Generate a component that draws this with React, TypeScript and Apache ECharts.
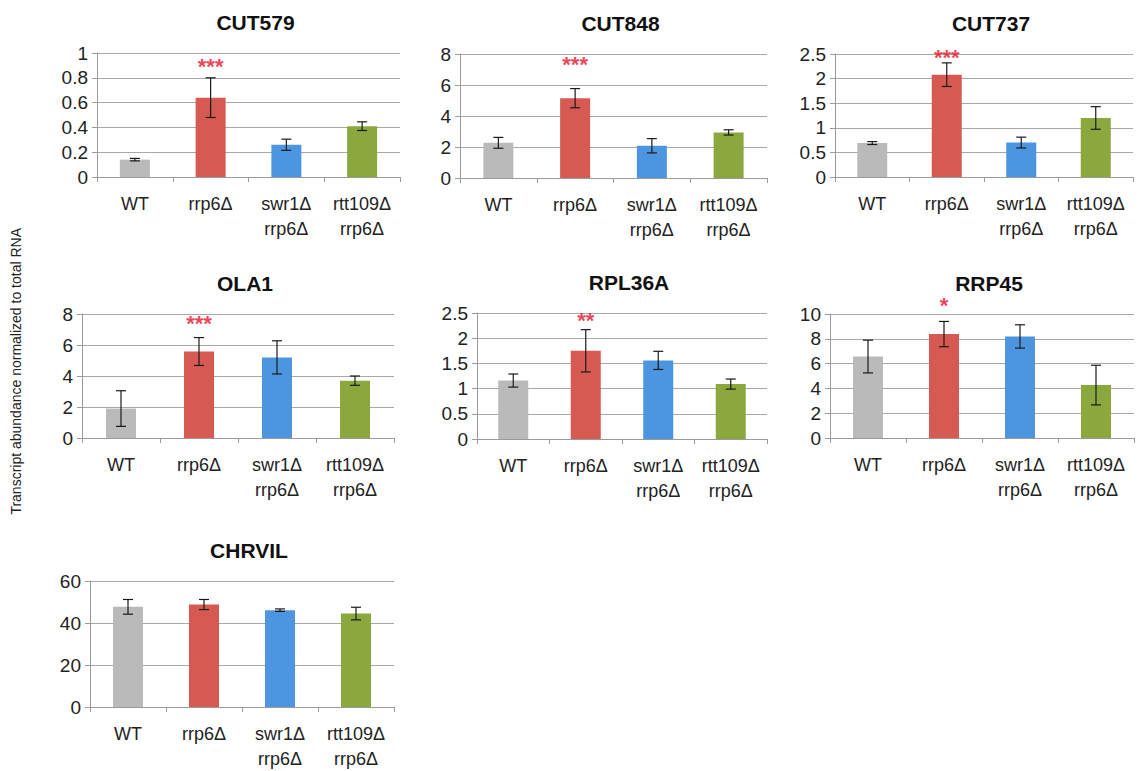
import React, { useEffect, useRef } from "react";
import * as echarts from "echarts";

const categories = ["WT", "rrp6Δ", "swr1Δ\nrrp6Δ", "rtt109Δ\nrrp6Δ"];
const barColors = ["#bababa", "#d65a52", "#4e95df", "#8aa83e"];

const titles = ["CUT579", "CUT848", "CUT737", "OLA1", "RPL36A", "RRP45", "CHRVIL"];
const yMax = [1, 8, 2.5, 8, 2.5, 10, 60];
const yInterval = [0.2, 2, 0.5, 2, 0.5, 2, 20];

const cut579 = [0.14, 0.64, 0.26, 0.41];
const cut579Err = [0.01, 0.16, 0.045, 0.035];
const cut848 = [2.27, 5.15, 2.08, 2.94];
const cut848Err = [0.35, 0.62, 0.46, 0.17];
const cut737 = [0.69, 2.08, 0.7, 1.2];
const cut737Err = [0.03, 0.24, 0.11, 0.23];
const ola1 = [1.9, 5.58, 5.2, 3.7];
const ola1Err = [1.15, 0.9, 1.07, 0.3];
const rpl36a = [1.16, 1.75, 1.56, 1.09];
const rpl36aErr = [0.13, 0.42, 0.18, 0.1];
const rrp45 = [6.57, 8.38, 8.19, 4.27];
const rrp45Err = [1.32, 1.02, 0.94, 1.6];
const chrvil = [47.7, 48.8, 46.1, 44.5];
const chrvilErr = [3.5, 2.4, 0.6, 3.0];

const values = [cut579, cut848, cut737, ola1, rpl36a, rrp45, chrvil];
const errors = [cut579Err, cut848Err, cut737Err, ola1Err, rpl36aErr, rrp45Err, chrvilErr];

// significance stars over rrp6Δ
const starText = ["***", "***", "***", "***", "**", "*", ""];
const starY = [0.89, 7.3, 2.42, 7.4, 2.35, 10.65, 0];

const gridBoxes = [
  { left: 97, top: 53, width: 303, height: 124 },
  { left: 460, top: 54, width: 307, height: 124 },
  { left: 835, top: 54, width: 298, height: 123 },
  { left: 82, top: 314, width: 312, height: 124 },
  { left: 477, top: 313, width: 290, height: 126 },
  { left: 830, top: 314, width: 304, height: 124 },
  { left: 90, top: 581, width: 304, height: 128 },
];

const FONT = "Liberation Sans, Arial, sans-serif";

export default function App() {
  const ref = useRef<HTMLDivElement>(null);
  useEffect(() => {
    if (!ref.current) return;
    const chart = echarts.init(ref.current, undefined, { renderer: "svg" });
    const grids: any[] = [];
    const xAxes: any[] = [];
    const yAxes: any[] = [];
    const series: any[] = [];
    const titleOpts: any[] = [];

    gridBoxes.forEach((g, i) => {
      grids.push({ ...g, containLabel: false });
      titleOpts.push({
        text: titles[i],
        left: g.left + g.width / 2 + 2,
        top: g.top - 46,
        textAlign: "center",
        textStyle: { fontFamily: FONT, fontWeight: "bold", fontSize: 21, color: "#111" },
      });
      xAxes.push({
        type: "category",
        gridIndex: i,
        data: categories,
        axisLine: { show: true, lineStyle: { color: "#9a9a9a", width: 1 } },
        axisTick: { show: true, length: 5, lineStyle: { color: "#9a9a9a" } },
        axisLabel: {
          fontFamily: FONT,
          fontSize: 18,
          color: "#222",
          margin: 14,
          lineHeight: 25,
          interval: 0,
        },
      });
      yAxes.push({
        type: "value",
        gridIndex: i,
        min: 0,
        max: yMax[i],
        interval: yInterval[i],
        axisLine: { show: true, lineStyle: { color: "#9a9a9a", width: 1 } },
        axisTick: { show: true, length: 5, lineStyle: { color: "#9a9a9a" } },
        splitLine: { show: true, lineStyle: { color: "#a8a8a8", width: 1 } },
        axisLabel: { fontFamily: FONT, fontSize: 19, color: "#222", margin: 9 },
      });
      series.push({
        type: "bar",
        xAxisIndex: i,
        yAxisIndex: i,
        barWidth: 30,
        data: values[i].map((v, k) => ({ value: v, itemStyle: { color: barColors[k] } })),
      });
      const vals = values[i];
      const errs = errors[i];
      series.push({
        type: "custom",
        xAxisIndex: i,
        yAxisIndex: i,
        z: 10,
        data: vals.map((v, k) => [k, v - errs[k], v + errs[k]]),
        renderItem: (params: any, api: any) => {
          const x = api.value(0);
          const lo = api.coord([x, api.value(1)]);
          const hi = api.coord([x, api.value(2)]);
          const hw = 5;
          const style = { stroke: "#1a1a1a", lineWidth: 1.2 };
          return {
            type: "group",
            children: [
              { type: "line", shape: { x1: lo[0], y1: lo[1], x2: hi[0], y2: hi[1] }, style },
              { type: "line", shape: { x1: lo[0] - hw, y1: lo[1], x2: lo[0] + hw, y2: lo[1] }, style },
              { type: "line", shape: { x1: hi[0] - hw, y1: hi[1], x2: hi[0] + hw, y2: hi[1] }, style },
            ],
          };
        },
      });
      if (starText[i]) {
        series.push({
          type: "scatter",
          xAxisIndex: i,
          yAxisIndex: i,
          clip: false,
          z: 12,
          symbolSize: 0,
          data: [[1, starY[i]]],
          label: {
            show: true,
            position: "inside",
            formatter: starText[i],
            fontFamily: FONT,
            fontWeight: "bold",
            fontSize: 22,
            color: "#e8132e",
          },
        });
      }
    });

    chart.setOption({
      animation: false,
      backgroundColor: "#ffffff",
      title: titleOpts,
      grid: grids,
      xAxis: xAxes,
      yAxis: yAxes,
      series,
      graphic: [
        {
          type: "text",
          left: 9,
          top: 228,
          rotation: Math.PI / 2,
          style: {
            text: "Transcript abundance normalized to total RNA",
            fontFamily: FONT,
            fontSize: 14,
            fill: "#222",
          },
        },
      ],
    });
    return () => chart.dispose();
  }, []);
  return (
    <div
      ref={ref}
      style={{ position: "absolute", left: 0, top: 0, width: 1144, height: 771 }}
    />
  );
}
